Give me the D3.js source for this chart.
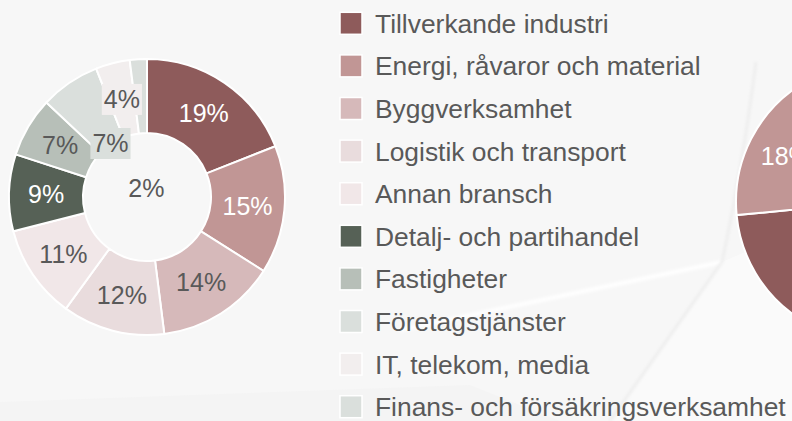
<!DOCTYPE html>
<html lang="sv">
<head>
    <meta charset="utf-8"/>
    <title>Bransch</title>
    <script src="https://d3js.org/d3.v7.min.js"></script>
    <style>
        body { margin: 0; background: #f7f7f7; }
        svg { display: block; font-family: "Liberation Sans", Arial, sans-serif; }
    </style>
</head>
<body>
<script>
    // categories, in the order they go round the donut (clockwise from the top)
    const categories = [
        "Tillverkande industri",
        "Energi, råvaror och material",
        "Byggverksamhet",
        "Logistik och transport",
        "Annan bransch",
        "Detalj- och partihandel",
        "Fastigheter",
        "Företagstjänster",
        "IT, telekom, media",
        "Finans- och försäkringsverksamhet"
    ];
    // share in percent, left donut
    const shares = [19, 15, 14, 12, 11, 9, 7, 7, 4, 2];
    // second pie (only its left edge is in the picture), estimated
    const rightShares = [30, 18, 14, 10, 9, 7, 5, 4, 2, 1];

    const colors = ["#8e5b5b", "#c19695", "#d6b9ba", "#e9dcdd", "#f1e7e8",
                    "#566156", "#b7bfb8", "#dadfdc", "#f2eeee", "#dadfdc"];
    // slices whose label is white instead of dark grey
    const whiteLabels = [0, 1, 5];

    const width = 792, height = 421;
    const textColor = "#595959";

    let svg = d3.select("body")
        .append("svg")
        .attr("width", width)
        .attr("height", height);

    // faint paper-like background shapes
    const defs = svg.append("defs");
    defs.append("filter").attr("id", "soft")
        .append("feGaussianBlur").attr("stdDeviation", 1.5);
    const bg = svg.append("g");
    bg.append("rect").attr("width", width).attr("height", height).attr("fill", "#f7f7f7");
    bg.append("path")
        .attr("d", "M610,421 L722,262 L792,232 L792,421 Z")
        .attr("fill", "#fafafa");
    bg.append("path")
        .attr("d", "M0,402 L470,385 L560,421 L0,421 Z")
        .attr("fill", "#f4f4f4");
    bg.append("path")
        .attr("d", "M400,330 L722,262")
        .attr("stroke", "#ffffff").attr("stroke-width", 4).attr("fill", "none")
        .attr("filter", "url(#soft)");
    bg.append("path")
        .attr("d", "M610,421 L722,262 Q742,170 756,62")
        .attr("stroke", "#ececec").attr("stroke-width", 2.5).attr("fill", "none")
        .attr("filter", "url(#soft)");

    // ---- left donut ----
    const cx = 147, cy = 197;
    const outerR = 138, innerR = 64;
    const midR = (outerR + innerR) / 2;

    // labels that were moved away from the slice middle (radius in px)
    const labelRadius = {7: 65, 9: 9};
    // labels drawn on a small box in the slice colour
    const boxedLabels = [7, 8];

    const pie = d3.pie().sort(null).value(d => d);
    const arcs = pie(shares);
    const arc = d3.arc().innerRadius(innerR).outerRadius(outerR);

    const donut = svg.append("g").attr("transform", `translate(${cx},${cy})`);
    donut.selectAll("path")
        .data(arcs)
        .enter()
        .append("path")
        .attr("d", arc)
        .attr("fill", (d, i) => colors[i])
        .attr("stroke", "#ffffff")
        .attr("stroke-width", 2);

    const labels = donut.selectAll("g.lbl")
        .data(arcs)
        .enter()
        .append("g")
        .attr("class", "lbl")
        .attr("transform", (d, i) => {
            const r = labelRadius[i] !== undefined ? labelRadius[i] : midR;
            const a = (d.startAngle + d.endAngle) / 2;
            return `translate(${r * Math.sin(a)},${-r * Math.cos(a)})`;
        });

    labels.append("text")
        .attr("text-anchor", "middle")
        .attr("dy", "0.35em")
        .attr("font-size", 25)
        .attr("fill", (d, i) => whiteLabels.includes(i) ? "#ffffff" : textColor)
        .text((d, i) => shares[i] + "%");

    // boxes behind the moved labels
    labels.each(function (d, i) {
        if (!boxedLabels.includes(i)) return;
        const g = d3.select(this);
        const b = g.select("text").node().getBBox();
        g.insert("rect", "text")
            .attr("x", b.x - 2)
            .attr("y", b.y - 1)
            .attr("width", b.width + 4)
            .attr("height", b.height + 3)
            .attr("fill", colors[i]);
    });

    // ---- legend ----
    const legendX = 340, legendTop = 23.3, rowStep = 42.6, sw = 22;
    const legend = svg.append("g");
    const rows = legend.selectAll("g")
        .data(categories)
        .enter()
        .append("g")
        .attr("transform", (d, i) => `translate(${legendX},${legendTop + i * rowStep})`);
    rows.append("rect")
        .attr("x", 0)
        .attr("y", -sw / 2)
        .attr("width", sw)
        .attr("height", sw)
        .attr("fill", (d, i) => colors[i])
        .attr("stroke", "#ffffff")
        .attr("stroke-width", 1.5);
    rows.append("text")
        .attr("x", 35)
        .attr("dy", "0.36em")
        .attr("font-size", 26.4)
        .attr("fill", textColor)
        .text(d => d);

    // ---- right pie, cut off by the edge ----
    const pcx = 875, pcy = 202, pR = 139;
    // rotation of the first slice, degrees
    const rightStart = 156.6;
    const pie2 = d3.pie().sort(null).value(d => d)
        .startAngle(rightStart * Math.PI / 180)
        .endAngle((rightStart + 360) * Math.PI / 180);
    const arcs2 = pie2(rightShares);
    const arc2 = d3.arc().innerRadius(0).outerRadius(pR);
    const pieG = svg.append("g").attr("transform", `translate(${pcx},${pcy})`);
    pieG.selectAll("path")
        .data(arcs2)
        .enter()
        .append("path")
        .attr("d", arc2)
        .attr("fill", (d, i) => colors[i])
        .attr("stroke", "#ffffff")
        .attr("stroke-width", 2);
    pieG.selectAll("text")
        .data(arcs2)
        .enter()
        .append("text")
        .attr("transform", d => {
            const a = (d.startAngle + d.endAngle) / 2, r = pR * 0.72;
            return `translate(${r * Math.sin(a)},${-r * Math.cos(a)})`;
        })
        .attr("text-anchor", "middle")
        .attr("dy", "0.35em")
        .attr("font-size", 25)
        .attr("fill", (d, i) => whiteLabels.includes(i) ? "#ffffff" : textColor)
        .text((d, i) => rightShares[i] + "%");
</script>
</body>
</html>
